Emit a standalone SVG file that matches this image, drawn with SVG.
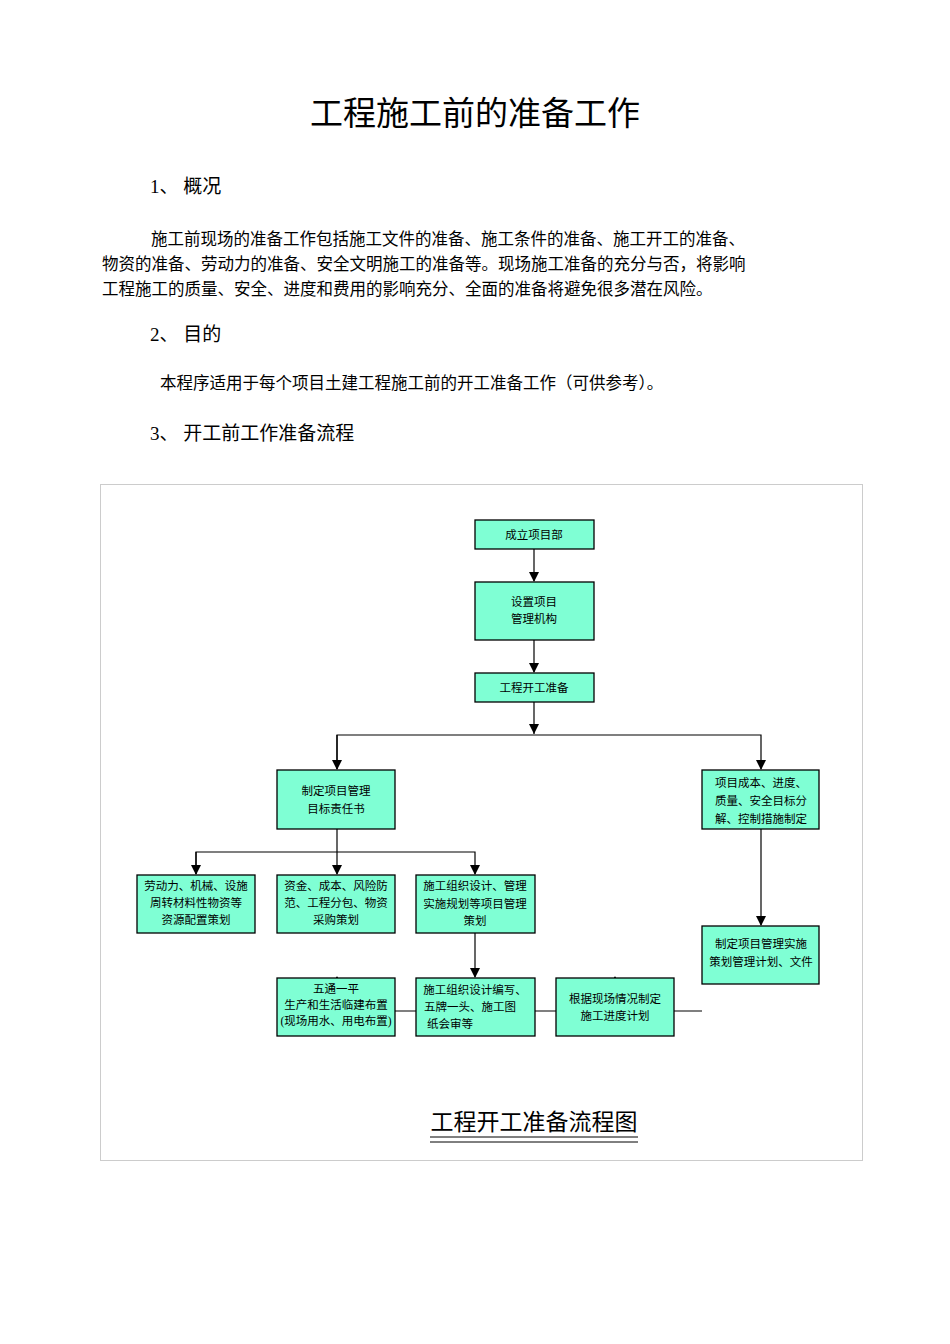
<svg xmlns="http://www.w3.org/2000/svg" width="950" height="1344" viewBox="0 0 950 1344">
<style>
text{font-family:"Liberation Serif","Noto Sans CJK SC",serif;fill:#000}
.b{fill:#7fffd4;stroke:#000;stroke-width:1.3}
.t{font-size:11.5px;text-anchor:middle}
.c{stroke:#000;stroke-width:1.2;fill:none}
</style>
<defs><marker id="a" markerWidth="10" markerHeight="10" refX="9" refY="5" orient="auto" markerUnits="userSpaceOnUse"><path d="M0,0L10,5L0,10z" fill="#000"/></marker></defs>
<rect width="950" height="1344" fill="#fff"/>
<text x="475" y="125" font-size="33" text-anchor="middle">工程施工前的准备工作</text>
<text x="150" y="193" font-size="19">1、  概况</text>
<text x="151" y="245" font-size="16.5">施工前现场的准备工作包括施工文件的准备、施工条件的准备、施工开工的准备、</text>
<text x="102" y="270" font-size="16.5">物资的准备、劳动力的准备、安全文明施工的准备等。现场施工准备的充分与否，将影响</text>
<text x="102" y="295" font-size="16.5">工程施工的质量、安全、进度和费用的影响充分、全面的准备将避免很多潜在风险。</text>
<text x="150" y="341" font-size="19">2、  目的</text>
<text x="160" y="389" font-size="16.5">本程序适用于每个项目土建工程施工前的开工准备工作（可供参考）。</text>
<text x="150" y="440" font-size="19">3、  开工前工作准备流程</text>
<rect x="100.5" y="484.5" width="762" height="676" fill="none" stroke="#ccc"/>
<g id="connectors">
<path class="c" d="M534,549V581" marker-end="url(#a)"/>
<path class="c" d="M534,640V672" marker-end="url(#a)"/>
<path class="c" d="M534,702V734"/>
<path d="M529,724L539,724L534,734z"/>
<path class="c" d="M337,769V735H761V769" marker-end="url(#a)"/>
<path class="c" d="M337,735V769" marker-end="url(#a)"/>
<path class="c" d="M337,829V874" marker-end="url(#a)"/>
<path class="c" d="M196,874V852H475V874" marker-end="url(#a)"/>
<path class="c" d="M196,852V874" marker-end="url(#a)"/>
<path class="c" d="M761,829V925" marker-end="url(#a)"/>
<path class="c" d="M475,933V977" marker-end="url(#a)"/>
<path class="c" d="M337,977V1011H702" marker-start="none"/>
<path class="c" d="M337,1011V977" marker-end="url(#a)"/>
<path class="c" d="M615,1011V977" marker-end="url(#a)"/>
</g>
<g id="n1"><rect class="b" x="475" y="520" width="119" height="29"/><text class="t" x="534" y="539">成立项目部</text></g>
<g id="n2"><rect class="b" x="475" y="582" width="119" height="58"/><text class="t" x="534" y="606">设置项目</text><text class="t" x="534" y="623">管理机构</text></g>
<g id="n3"><rect class="b" x="475" y="673" width="119" height="29"/><text class="t" x="534" y="692">工程开工准备</text></g>
<g id="n4"><rect class="b" x="277" y="770" width="118" height="59"/><text class="t" x="336" y="795">制定项目管理</text><text class="t" x="336" y="813">目标责任书</text></g>
<g id="n5"><rect class="b" x="702" y="770" width="117" height="59"/><text class="t" x="761" y="787">项目成本、进度、</text><text class="t" x="761" y="805">质量、安全目标分</text><text class="t" x="761" y="823">解、控制措施制定</text></g>
<g id="n6"><rect class="b" x="137" y="875" width="118" height="58"/><text class="t" x="196" y="890">劳动力、机械、设施</text><text class="t" x="196" y="907">周转材料性物资等</text><text class="t" x="196" y="924">资源配置策划</text></g>
<g id="n7"><rect class="b" x="277" y="875" width="118" height="58"/><text class="t" x="336" y="890">资金、成本、风险防</text><text class="t" x="336" y="907">范、工程分包、物资</text><text class="t" x="336" y="924">采购策划</text></g>
<g id="n8"><rect class="b" x="416" y="875" width="119" height="58"/><text class="t" x="475" y="890">施工组织设计、管理</text><text class="t" x="475" y="908">实施规划等项目管理</text><text class="t" x="475" y="925">策划</text></g>
<g id="n9"><rect class="b" x="702" y="926" width="117" height="58"/><text class="t" x="761" y="948">制定项目管理实施</text><text class="t" x="761" y="966">策划管理计划、文件</text></g>
<g id="n10"><rect class="b" x="277" y="978" width="118" height="58"/><text class="t" x="336" y="993">五通一平</text><text class="t" x="336" y="1009">生产和生活临建布置</text><text class="t" x="336" y="1025">(现场用水、用电布置)</text></g>
<g id="n11"><rect class="b" x="416" y="978" width="119" height="58"/><text class="t" x="475" y="994">施工组织设计编写、</text><text class="t" x="470" y="1011">五牌一头、施工图</text><text class="t" x="450" y="1028">纸会审等</text></g>
<g id="n12"><rect class="b" x="556" y="978" width="118" height="58"/><text class="t" x="615" y="1003">根据现场情况制定</text><text class="t" x="615" y="1020">施工进度计划</text></g>
<text x="534" y="1130" font-size="23" text-anchor="middle">工程开工准备流程图</text>
<path d="M430,1137H638M430,1142H638" stroke="#000" stroke-width="1"/>
</svg>
